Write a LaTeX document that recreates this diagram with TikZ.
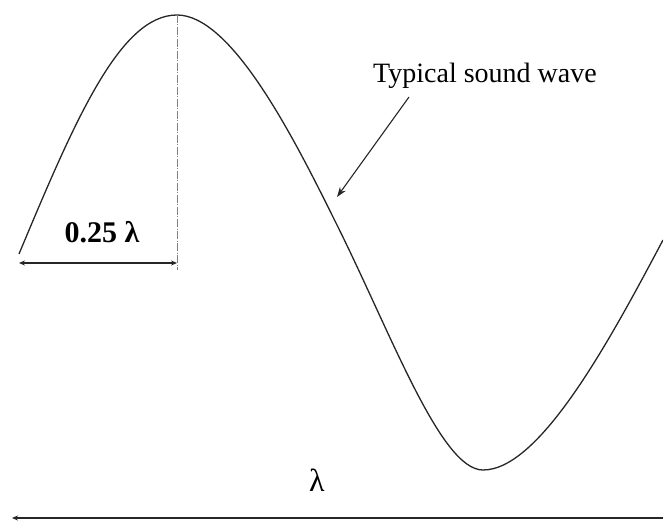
\documentclass[tikz,border=0pt]{standalone}
\usepackage{fontspec}
\setmainfont{Liberation Serif}
\usetikzlibrary{arrows.meta}
\begin{document}
\begin{tikzpicture}[x=1pt,y=-1pt,
  wave/.style={line width=1.3pt,black!85},
  dimline/.style={line width=1.4pt,black!85,{Stealth[length=6pt,width=5pt]}-{Stealth[length=6pt,width=5pt]}},
  guide/.style={line width=0.5pt,gray,dash pattern=on 8pt off 1.5pt on 1pt off 1.5pt},
  pointer/.style={line width=1.1pt,black!85,-{Stealth[length=10pt,width=7pt]}},
  lbl/.style={font=\fontsize{28}{30}\selectfont,inner sep=0pt}]
\useasboundingbox (0,0) rectangle (663,521);
% wave
\coordinate (w0) at (19,254);
\coordinate (peak) at (177,15);
\coordinate (infl) at (333,217);
\coordinate (trough) at (483,470);
\coordinate (w4) at (663,240);
\draw[wave] (w0) .. controls (75,120) and (120,15) .. (peak)
  .. controls (230,15) and (290,130) .. (infl)
  .. controls (390,330) and (440,470) .. (trough)
  .. controls (540,470) and (610,340) .. (w4);
% guide line at the peak
\coordinate (foot) at (177,270);
\draw[guide] (peak) -- (foot);
% quarter wavelength
\coordinate (qa) at (19,263);
\coordinate (qb) at (177,263);
\draw[dimline] (qa) -- (qb);
\node[lbl,font=\fontsize{30}{32}\selectfont,anchor=base] (quarter) at (102,243) {\textbf{0.25 λ}};
% label and pointer
\node[lbl,anchor=base] (typ) at (485,83) {Typical sound wave};
\coordinate (ptip) at (337,197);
\coordinate (ptail) at (409,97);
\draw[pointer] (ptail) -- (ptip);
% wavelength
\node[lbl,font=\fontsize{32}{34}\selectfont,anchor=base] (lam) at (317,491) {λ};
\coordinate (la) at (12,518);
\coordinate (lb) at (663,518);
\draw[line width=1.4pt,black!85,{Stealth[length=6pt,width=5pt]}-] (la) -- (lb);
\end{tikzpicture}
\end{document}
